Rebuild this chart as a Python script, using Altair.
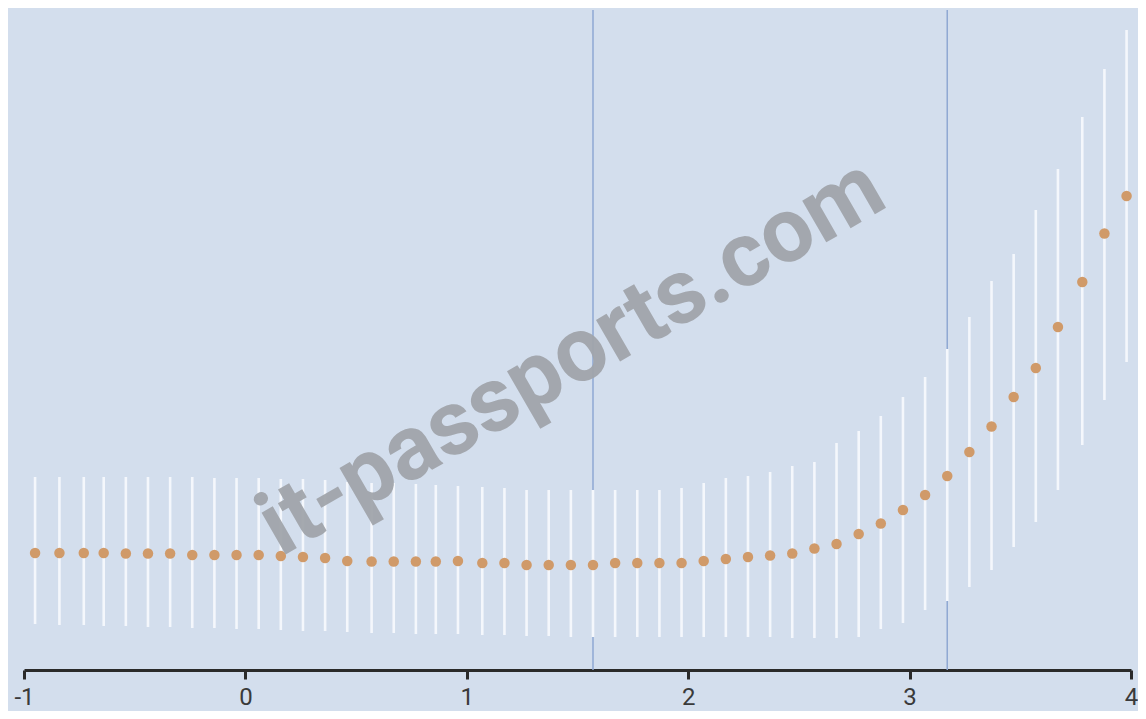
import altair as alt
import pandas as pd

# x positions of the 50 estimates
xs = [-0.95, -0.84, -0.73, -0.64, -0.54, -0.44, -0.34, -0.24, -0.14, -0.04,
      0.06, 0.16, 0.26, 0.36, 0.46, 0.57, 0.67, 0.77, 0.86, 0.96,
      1.07, 1.17, 1.27, 1.37, 1.47, 1.57, 1.67, 1.77, 1.87, 1.97,
      2.07, 2.17, 2.27, 2.37, 2.47, 2.57, 2.67, 2.77, 2.87, 2.97,
      3.07, 3.17, 3.27, 3.37, 3.47, 3.57, 3.67, 3.78, 3.88, 3.98]

means = [117, 117, 117, 117, 116.5, 116.5, 116.5, 115, 115, 115,
         115, 114, 113, 112, 109, 108.5, 108.5, 108.5, 108.5, 109,
         107, 107, 105, 105, 105, 105, 107, 107, 107, 107,
         109, 111, 113, 114.5, 116.5, 121.5, 126, 136, 146.5, 160,
         175, 194, 218, 243.5, 273, 302, 343, 388, 436.5, 474]

uppers = [193, 193, 193, 193, 193, 193, 193, 193, 192, 192,
          192, 191, 191, 190, 188, 187, 187, 186, 185, 184,
          183, 182, 180, 180, 180, 180, 180, 180, 180, 182,
          187, 192, 194, 198, 204, 208, 227, 239, 254, 273,
          293, 321, 353, 389, 416, 460, 501, 553, 601, 640]

lowers = [46, 45, 45, 44, 44, 43, 43, 42, 42, 41,
          41, 40, 39, 39, 38, 37, 37, 36, 36, 36,
          35, 35, 34, 34, 33, 33, 33, 33, 33, 33,
          33, 33, 33, 33, 32, 32, 32, 33, 41, 47,
          60, 69, 83, 100, 123, 148, 180, 225, 270, 308]

vlines = [1.57, 3.17]
tick_values = [-1, 0, 1, 2, 3, 4]
watermark = ["it-passports.com"]

df = pd.DataFrame({"x": xs, "mean": means, "lo": lowers, "hi": uppers})
vdf = pd.DataFrame({"x": vlines})
wdf = pd.DataFrame({"t": watermark})

BG = "#d3deed"

xscale = alt.Scale(domain=[-1, 4], nice=False, zero=False)
yscale = alt.Scale(domain=[0, 660], nice=False, zero=False)

xaxis = alt.Axis(values=tick_values, labelExpr="'' + datum.value", title=None,
                 grid=False,
                 domainColor="#2a2a2a", domainWidth=3,
                 tickColor="#2a2a2a", tickWidth=3, tickSize=9,
                 labelFontSize=24, labelColor="#3a3a3a", labelFont="Roboto",
                 labelPadding=6, labelFlush=False)

rules = alt.Chart(vdf).mark_rule(color="#8fa8d3", strokeWidth=1.5).encode(
    x=alt.X("x:Q", scale=xscale, axis=xaxis)
)

bars = alt.Chart(df).mark_rule(color="#f4f7fc", strokeWidth=2.6).encode(
    x=alt.X("x:Q", scale=xscale),
    y=alt.Y("lo:Q", scale=yscale, axis=None),
    y2="hi:Q",
)

dots = alt.Chart(df).mark_circle(color="#d09a69", opacity=1, size=110).encode(
    x=alt.X("x:Q", scale=xscale),
    y=alt.Y("mean:Q", scale=yscale, axis=None),
)

wm = alt.Chart(wdf).mark_text(
    fontSize=91, fontWeight="bold", font="Roboto", color="#a1a5ab",
    angle=330, align="center", baseline="middle", opacity=0.95
).encode(
    text="t:N",
    x=alt.value(548),
    y=alt.value(348),
)

chart = alt.layer(rules, bars, dots, wm).properties(
    width=1107,
    height=660,
    background=BG,
    padding={"left": 16, "top": 2, "right": 7, "bottom": 41},
    autosize=alt.AutoSizeParams(type="none"),
).configure_view(fill=BG, stroke=None)

chart.save("out.html", embed_options={"renderer": "svg", "actions": False})
